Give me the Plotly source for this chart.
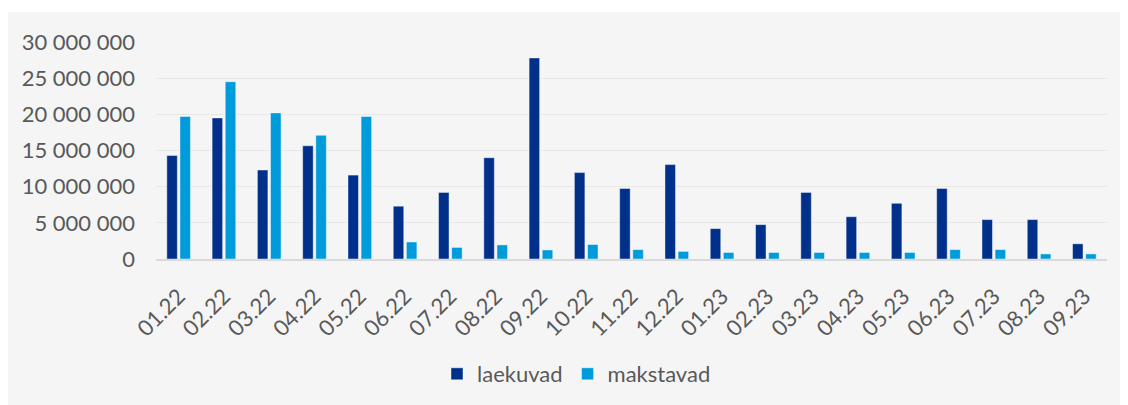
import plotly.graph_objects as go

months = ["01.22", "02.22", "03.22", "04.22", "05.22", "06.22", "07.22", "08.22", "09.22",
          "10.22", "11.22", "12.22", "01.23", "02.23", "03.23", "04.23", "05.23", "06.23",
          "07.23", "08.23", "09.23"]
laekuvad = [14.3e6, 19.5e6, 12.3e6, 15.65e6, 11.6e6, 7.3e6, 9.2e6, 14.0e6, 27.8e6,
            11.95e6, 9.75e6, 13.05e6, 4.2e6, 4.75e6, 9.2e6, 5.85e6, 7.7e6, 9.75e6,
            5.45e6, 5.45e6, 2.1e6]
makstavad = [19.7e6, 24.5e6, 20.2e6, 17.1e6, 19.7e6, 2.35e6, 1.6e6, 1.95e6, 1.25e6,
             2.0e6, 1.3e6, 1.05e6, 0.9e6, 0.9e6, 0.9e6, 0.9e6, 0.9e6, 1.3e6,
             1.3e6, 0.7e6, 0.7e6]
y_ticks = [0, 5e6, 10e6, 15e6, 20e6, 25e6, 30e6]

FONT = "Lato"
TXT = "#595959"
FS = 22

fig = go.Figure()
fig.add_trace(go.Bar(x=months, y=laekuvad, name="laekuvad",
                     marker=dict(color="#00308A", line=dict(color="rgba(255,255,255,0.55)", width=0.8))))
fig.add_trace(go.Bar(x=months, y=makstavad, name="makstavad",
                     marker=dict(color="#009BDB", line=dict(color="rgba(255,255,255,0.55)", width=0.8))))

# page body adds an 8px offset; figure sized to fill the rest of the window
W, H = 1120, 397
L, R, T, B = 148, 21, 34, 146
pw, ph = W - L - R, H - T - B

# white strip along the top of the card
fig.add_shape(type="rect", xref="paper", yref="paper", layer="below",
              x0=-L / pw, x1=(W - L) / pw, y0=(H - 4 - B) / ph, y1=(H - B) / ph,
              fillcolor="white", line=dict(width=0))

fig.update_layout(
    width=W, height=H,
    margin=dict(l=L, r=R, t=T, b=B, pad=0, autoexpand=False),
    paper_bgcolor="#f5f5f5",
    plot_bgcolor="rgba(0,0,0,0)",
    barmode="group",
    bargap=0.42,
    bargroupgap=0.2,
    separators=", ",
    font=dict(family=FONT, size=FS, color=TXT),
    showlegend=True,
    legend=dict(orientation="h", x=(568.5 - L) / pw, xanchor="center", y=(251 - 366) / ph, yanchor="middle",
                font=dict(family=FONT, size=FS, color=TXT), bgcolor="rgba(0,0,0,0)",
                itemclick=False),
)
fig.update_xaxes(showgrid=False, tickangle=-45, showline=True, linecolor="#d9d9d9", linewidth=1.5,
                 ticks="", ticklabelstandoff=14, automargin=False,
                 tickfont=dict(family=FONT, size=FS, color=TXT))
fig.update_yaxes(range=[0, 30e6], tickvals=y_ticks, tickformat=",d", showgrid=True,
                 gridcolor="#e8e8e8", gridwidth=1.2, zeroline=False, showline=False, ticks="",
                 ticklabelstandoff=20, automargin=False,
                 tickfont=dict(family=FONT, size=FS, color=TXT))

fig.write_html("out.html")
